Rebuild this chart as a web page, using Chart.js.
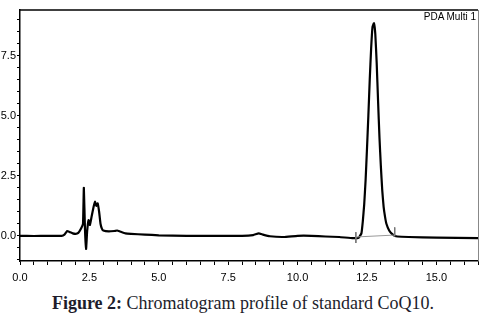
<!DOCTYPE html>
<html>
<head>
<meta charset="utf-8">
<script src="https://cdn.jsdelivr.net/npm/chart.js@4.4.1/dist/chart.umd.min.js"></script>
<style>
  html, body { margin: 0; padding: 0; background: #fff; }
  #wrap { position: relative; width: 500px; height: 324px; }
  #box { position: absolute; left: 0; top: 0; width: 500px; height: 290px; }
  #tag {
    position: absolute; right: 24px; top: 11px;
    font: 10px "Liberation Sans", Arial, sans-serif;
    color: #000;
  }
  #caption {
    position: absolute; left: 0; width: 486px; top: 293px; text-align: center;
    font: 18px "Liberation Serif", "DejaVu Serif", serif; color: #1d1d2b;
  }
</style>
</head>
<body>
<div id="wrap">
  <div id="box"><canvas id="chart"></canvas></div>
  <div id="tag">PDA Multi 1</div>
  <div id="caption"><b>Figure 2:</b> Chromatogram profile of standard CoQ10.</div>
</div>
<script>
// retention time (min) and detector response
const times = [
  0.0, 0.5, 1.0, 1.5, 1.6, 1.7, 1.8, 1.9, 2.0, 2.1, 2.2, 2.27, 2.3, 2.34, 2.38,
  2.42, 2.47, 2.52, 2.58, 2.65, 2.7, 2.75, 2.8, 2.85, 2.9, 2.95, 3.0, 3.2, 3.4,
  3.5, 3.6, 3.8, 4.0, 4.5, 5.0, 6.0, 7.0, 8.0, 8.4, 8.6, 8.75, 9.0, 9.5, 10.0,
  10.5, 11.0, 11.5, 12.0, 12.2, 12.3, 12.35, 12.4, 12.45, 12.5, 12.55, 12.6,
  12.65, 12.7, 12.75, 12.8, 12.85, 12.9, 12.95, 13.0, 13.05, 13.1, 13.15, 13.2,
  13.3, 13.4, 13.5, 13.6, 14.0, 15.0, 16.5
];
const signal = [
  0.0, -0.01, 0.0, 0.0, 0.05, 0.2, 0.15, 0.1, 0.08, 0.12, 0.3, 0.5, 2.0, 0.3, -0.55,
  0.2, 0.65, 0.45, 0.8, 1.2, 1.42, 1.25, 1.35, 1.0, 0.5, 0.3, 0.22, 0.18, 0.2,
  0.22, 0.18, 0.1, 0.08, 0.05, 0.02, 0.0, 0.0, 0.0, 0.03, 0.1, 0.05, -0.02, -0.05, 0.0,
  0.0, -0.03, -0.05, -0.1, -0.08, 0.1, 0.6, 1.3, 2.3, 3.6, 5.0,
  6.5, 7.8, 8.7, 8.85, 8.4, 7.2, 5.6, 4.1, 2.9, 1.9, 1.2, 0.8, 0.5,
  0.22, 0.08, 0.0, -0.03, -0.05, -0.08, -0.1
];

// integration baseline of the main peak and its start/end markers
const baseTimes = [12.1, 13.5];
const baseValues = [-0.05, 0.03];
const startMarkTimes = [12.1, 12.1];
const startMarkValues = [0.15, -0.3];
const endMarkTimes = [13.5, 13.5];
const endMarkValues = [0.35, -0.02];

const xTickLabels = [0, 2.5, 5, 7.5, 10, 12.5, 15];
const yTickLabels = [0, 2.5, 5, 7.5];

const pts = (xs, ys) => xs.map((x, i) => ({ x, y: ys[i] }));

const TICK_FONT = { family: "'Liberation Sans', Arial, sans-serif", size: 11 };

const frame = {
  id: "frame",
  afterDraw(chart) {
    const { ctx, chartArea: a } = chart;
    ctx.save();
    ctx.strokeStyle = "#000";
    ctx.lineWidth = 1.5;
    ctx.beginPath();
    ctx.moveTo(a.left, a.top);
    ctx.lineTo(a.right, a.top);
    ctx.stroke();
    ctx.strokeStyle = "#888";
    ctx.lineWidth = 1;
    ctx.beginPath();
    ctx.moveTo(a.right + 0.5, a.top);
    ctx.lineTo(a.right + 0.5, a.bottom);
    ctx.stroke();
    ctx.restore();
  },
};

const label = list => v => list.some(t => Math.abs(t - v) < 1e-6) ? v.toFixed(1) : "";

new Chart(document.getElementById("chart"), {
  type: "line",
  data: {
    datasets: [
      { data: pts(baseTimes, baseValues), borderColor: "#999", borderWidth: 1, pointRadius: 0 },
      { data: pts(startMarkTimes, startMarkValues), borderColor: "#777", borderWidth: 1, pointRadius: 0 },
      { data: pts(endMarkTimes, endMarkValues), borderColor: "#777", borderWidth: 1, pointRadius: 0 },
      { data: pts(times, signal), borderColor: "#000", borderWidth: 2.2, pointRadius: 0, tension: 0.1 },
    ],
  },
  options: {
    responsive: true,
    maintainAspectRatio: false,
    animation: false,
    layout: { padding: { left: 0, right: 22, top: 10, bottom: 0 } },
    plugins: { legend: { display: false }, tooltip: { enabled: false } },
    scales: {
      x: {
        type: "linear",
        min: 0,
        max: 16.5,
        afterFit: s => { s.height = 29; },
        border: { display: true, color: "#000", width: 1.5 },
        grid: { display: true, drawOnChartArea: false, drawTicks: true, tickLength: 4, color: "#000" },
        ticks: {
          stepSize: 0.5,
          autoSkip: false,
          maxRotation: 0,
          includeBounds: false,
          padding: 6,
          color: "#000",
          font: TICK_FONT,
          callback: label(xTickLabels),
        },
      },
      y: {
        min: -1.05,
        max: 9.4,
        afterFit: s => { s.width = 20; },
        border: { display: true, color: "#000", width: 1.5 },
        grid: { display: true, drawOnChartArea: false, drawTicks: true, tickLength: 3, color: "#000" },
        ticks: {
          stepSize: 0.5,
          autoSkip: false,
          includeBounds: false,
          padding: 1,
          color: "#000",
          font: TICK_FONT,
          callback: label(yTickLabels),
        },
      },
    },
  },
  plugins: [frame],
});
</script>
</body>
</html>
